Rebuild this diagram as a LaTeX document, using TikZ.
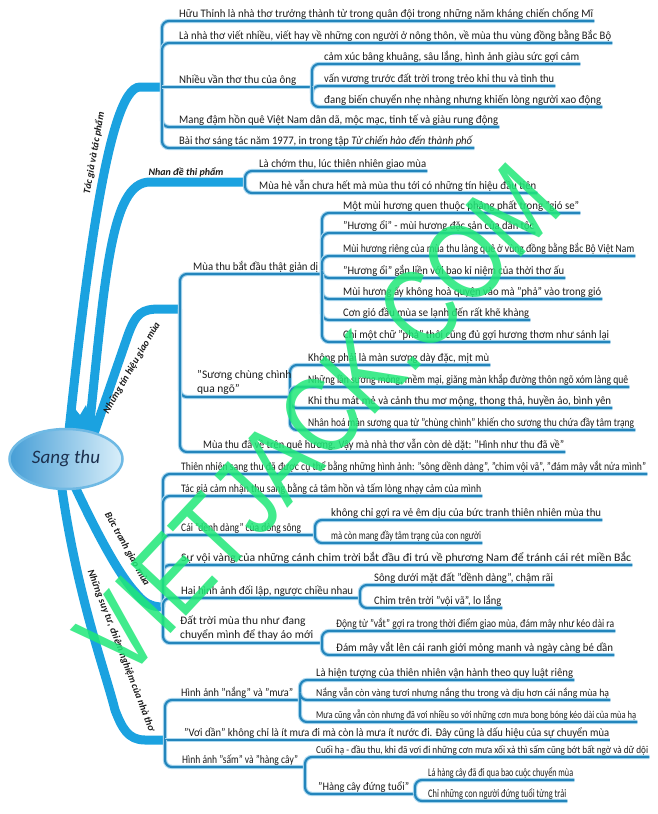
\documentclass[tikz,border=0pt]{standalone}
\usepackage{fontspec}
\usepackage{graphicx}
\setmainfont{Carlito}
\newfontfamily\wmfont{Liberation Sans}
\usetikzlibrary{shapes.geometric}
\definecolor{mainblue}{RGB}{27,162,224}
\definecolor{subblue}{RGB}{35,133,188}
\definecolor{halo}{RGB}{175,218,240}
\definecolor{wmgreen}{RGB}{32,232,120}
\definecolor{txt}{RGB}{28,28,28}
\definecolor{rootL}{RGB}{70,158,214}
\definecolor{rootR}{RGB}{218,239,250}
\definecolor{rootB}{RGB}{110,185,228}
\definecolor{roottxt}{RGB}{28,48,78}
\pgfdeclarelayer{bg}
\pgfdeclarelayer{lines}
\pgfsetlayers{bg,lines,main}
\newsavebox\fitbox
\newcommand\fitto[2]{\sbox\fitbox{#2}\pgfmathsetmacro\fitfac{max(0.6,min(1.3,#1/\the\wd\fitbox))}\scalebox{\fitfac}[1]{\usebox\fitbox}}
\begin{document}
\begin{tikzpicture}[x=1pt,y=-1pt,
  leaf/.style={anchor=south west, inner xsep=1pt, inner ysep=1pt, text height=8.5pt, text depth=2.4pt, text=txt, font=\fontsize{11.5}{13}\selectfont},
  sleaf/.style={leaf, font=\fontsize{10.5}{12}\selectfont},
  twoline/.style={anchor=south west, inner xsep=1pt, inner ysep=2pt, align=left, text=txt, font=\fontsize{11.5}{14}\selectfont},
  sub/.style={draw=subblue, line width=2.2pt, rounded corners=7pt, preaction={draw=halo, line width=4.4pt}},
  blab/.style={inner sep=0pt, text=txt, font=\bfseries\itshape\fontsize{10}{12}\selectfont},
  mainbr/.style={draw=mainblue, line width=9pt}]
\begin{pgfonlayer}{bg}
\fill[white] (0,0) rectangle (657,814);
\end{pgfonlayer}
\useasboundingbox (0,0) rectangle (657,814);

% bars
\coordinate (b1) at (162,87);  \coordinate (b1c) at (312,87);
\coordinate (b2) at (245,182);
\coordinate (b3) at (180,309); \coordinate (b3a) at (322,274); \coordinate (b3b) at (290,397);
\coordinate (b4) at (163,607); \coordinate (b4c) at (315,535); \coordinate (b4e) at (360,598); \coordinate (b4f) at (322,643);
\coordinate (b5) at (165,740); \coordinate (b5a) at (300,700); \coordinate (b5c) at (305,767); \coordinate (b5c2) at (415,794);

% branch start points (behind the root ellipse)
\coordinate (r1) at (68,440);
\coordinate (r2) at (88,440);
\coordinate (r3) at (90,445);
\coordinate (r4) at (70,476);
\coordinate (r5) at (60,475);

% main branches
\begin{pgfonlayer}{bg}
\draw[mainbr] (r1) .. controls (85,280) and (108,87) .. (140,87) -- (b1);
\draw[mainbr] (r2) .. controls (105,280) and (110,182) .. (150,182) -- (b2);
\draw[mainbr] (r3) -- (128,335) .. controls (136,313) and (142,309) .. (160,309) -- (b3);
\draw[mainbr] (r4) .. controls (88,515) and (115,570) .. (135,592) .. controls (143,602) and (150,607) .. (b4);
\draw[mainbr] (r5) .. controls (75,590) and (105,670) .. (115,710) .. controls (122,728) and (128,740) .. (145,740) -- (b5);
\fill[mainblue] (62,445) -- (72,405) -- (80,415) -- (86,405) -- (98,445) -- cycle;
\end{pgfonlayer}

% branch labels
\node[blab, rotate=80] (l1) at (94,153) {Tác giả và tác phẩm};
\node[blab] (l2) at (186,172) {Nhan đề thi phẩm};
\node[blab, rotate=60] (l3) at (132,368) {Những tín hiệu giao mùa};
\node[blab, rotate=-61] (l4) at (127,549) {Bức tranh giao mùa};
\node[blab, rotate=-69] (l5) at (121,651) {Những suy tư, chiêm nghiệm của nhà thơ};

% group 1
\node[leaf] (g1a) at (178,21) {\fitto{414}{Hữu Thỉnh là nhà thơ trưởng thành từ trong quân đội trong những năm kháng chiến chống Mĩ}};
\node[leaf] (g1b) at (178,43) {\fitto{432}{Là nhà thơ viết nhiều, viết hay về những con người ở nông thôn, về mùa thu vùng đồng bằng Bắc Bộ}};
\node[leaf] (g1c) at (178,87) {\fitto{117}{Nhiều vần thơ thu của ông}};
\node[leaf] (g1c1) at (323,64) {\fitto{255}{cảm xúc bâng khuâng, sâu lắng, hình ảnh giàu sức gợi cảm}};
\node[leaf] (g1c2) at (323,86) {\fitto{230}{vấn vương trước đất trời trong trẻo khi thu và tình thu}};
\node[leaf] (g1c3) at (323,107) {\fitto{277}{đang biến chuyển nhẹ nhàng nhưng khiến lòng người xao động}};
\node[leaf] (g1d) at (178,127) {\fitto{319}{Mang đậm hồn quê Việt Nam dân dã, mộc mạc, tinh tế và giàu rung động}};
\node[leaf] (g1e) at (178,148) {\fitto{294}{Bài thơ sáng tác năm 1977, in trong tập \textit{Từ chiến hào đến thành phố}}};
% group 2
\node[leaf] (g2a) at (258,171) {\fitto{167}{Là chớm thu, lúc thiên nhiên giao mùa}};
\node[leaf] (g2b) at (258,193) {\fitto{277}{Mùa hè vẫn chưa hết mà mùa thu tới có những tín hiệu đầu tiên}};
% group 3
\node[leaf] (g3a) at (192,274) {\fitto{125}{Mùa thu bắt đầu thật giản dị}};
\node[leaf] (g3a1) at (342,213) {\fitto{236}{Một mùi hương quen thuộc phảng phất trong "gió se"}};
\node[leaf] (g3a2) at (342,233) {\fitto{191}{"Hương ổi" - mùi hương đặc sản của dân tộc}};
\node[leaf] (g3a3) at (342,256) {\fitto{291}{Mùi hương riêng của mùa thu làng quê ở vùng đồng bằng Bắc Bộ Việt Nam}};
\node[leaf] (g3a4) at (342,278) {\fitto{221}{"Hương ổi" gắn liền với bao kỉ niệm của thời thơ ấu}};
\node[leaf] (g3a5) at (342,299) {\fitto{258}{Mùi hương ấy không hoà quyện vào mà "phả" vào trong gió}};
\node[leaf] (g3a6) at (342,320) {\fitto{186}{Cơn gió đầu mùa se lạnh đến rất khẽ khàng}};
\node[leaf] (g3a7) at (342,342) {\fitto{266}{Chỉ một chữ "phả" thôi cũng đủ gợi hương thơm như sánh lại}};
\node[twoline] (g3b) at (196,397) {"Sương chùng chình\\qua ngõ"};
\node[leaf] (g3b1) at (307,365) {\fitto{181}{Không phải là màn sương dày đặc, mịt mù}};
\node[leaf] (g3b2) at (307,387) {\fitto{320}{Những lần sương mỏng, mềm mại, giăng màn khắp đường thôn ngõ xóm làng quê}};
\node[leaf] (g3b3) at (307,408) {\fitto{303}{Khi thu mát mẻ và cảnh thu mơ mộng, thong thả, huyền ảo, bình yên}};
\node[leaf] (g3b4) at (307,430) {\fitto{326}{Nhân hoá màn sương qua từ "chùng chình" khiến cho sương thu chứa đầy tâm trạng}};
\node[leaf] (g3c) at (202,452) {\fitto{361}{Mùa thu đã về trên quê hương. Vậy mà nhà thơ vẫn còn dè dặt: "Hình như thu đã về"}};
% group 4
\node[leaf] (g4a) at (180,474) {\fitto{465}{Thiên nhiên sang thu đã được cụ thể bằng những hình ảnh: "sông dềnh dàng", "chim vội vã", "đám mây vắt nửa mình"}};
\node[leaf] (g4b) at (180,496) {\fitto{300}{Tác giả cảm nhận thu sang bằng cả tâm hồn và tấm lòng nhạy cảm của mình}};
\node[leaf] (g4c) at (180,535) {\fitto{120}{Cái "dềnh dàng" của dòng sông}};
\node[leaf] (g4c1) at (330,520) {\fitto{270}{không chỉ gợi ra vẻ êm dịu của bức tranh thiên nhiên mùa thu}};
\node[leaf] (g4c2) at (330,543) {\fitto{150}{mà còn mang đầy tâm trạng của con người}};
\node[leaf] (g4d) at (180,565) {\fitto{450}{Sự vội vàng của những cánh chim trời bắt đầu đi trú về phương Nam để tránh cái rét miền Bắc}};
\node[leaf] (g4e) at (180,598) {\fitto{172}{Hai hình ảnh đối lập, ngược chiều nhau}};
\node[leaf] (g4e1) at (373,585) {\fitto{179}{Sông dưới mặt đất "dềnh dàng", chậm rãi}};
\node[leaf] (g4e2) at (373,608) {\fitto{127}{Chim trên trời "vội vã", lo lắng}};
\node[twoline] (g4f) at (179,643) {Đất trời mùa thu như đang\\chuyển mình để thay áo mới};
\node[leaf] (g4f1) at (335,631) {\fitto{278}{Động từ "vắt" gợi ra trong thời điểm giao mùa, đám mây như kéo dài ra}};
\node[leaf] (g4f2) at (335,655) {\fitto{277}{Đám mây vắt lên cái ranh giới mỏng manh và ngày càng bé dần}};
% group 5
\node[leaf] (g5a) at (180,700) {\fitto{112}{Hình ảnh "nắng" và "mưa"}};
\node[leaf] (g5a1) at (315,680) {\fitto{257}{Là hiện tượng của thiên nhiên vận hành theo quy luật riêng}};
\node[sleaf] (g5a2) at (315,700) {\fitto{293}{Nắng vẫn còn vàng tươi nhưng nắng thu trong và dịu hơn cái nắng mùa hạ}};
\node[sleaf] (g5a3) at (315,722) {\fitto{320}{Mưa cũng vẫn còn nhưng đã vơi nhiều so với những cơn mưa bong bóng kéo dài của mùa hạ}};
\node[leaf] (g5b) at (183,740) {\fitto{425}{"Vơi dần" không chỉ là ít mưa đi mà còn là mưa ít nước đi. Đây cũng là dấu hiệu của sự chuyển mùa}};
\node[leaf] (g5c) at (181,767) {\fitto{116}{Hình ảnh "sấm" và "hàng cây"}};
\node[sleaf] (g5c1) at (315,757) {\fitto{332}{Cuối hạ - đầu thu, khi đã vơi đi những cơn mưa xối xả thì sấm cũng bớt bất ngờ và dữ dội}};
\node[leaf] (g5c2) at (317,794) {\fitto{91}{"Hàng cây đứng tuổi"}};
\node[leaf] (g5c2a) at (427,780) {\fitto{145}{Lá hàng cây đã đi qua bao cuộc chuyển mùa}};
\node[leaf] (g5c2b) at (427,801) {\fitto{138}{Chỉ những con người đứng tuổi từng trải}};

% connectors
\begin{pgfonlayer}{lines}
\foreach \c in {g1a,g1b,g1d,g1e} \draw[sub] (b1) |- (\c.south east);
\draw[sub] (b1) -- (b1c);
\foreach \c in {g1c1,g1c2,g1c3} \draw[sub] (b1c) |- (\c.south east);
\foreach \c in {g2a,g2b} \draw[sub] (b2) |- (\c.south east);
\draw[sub] (b3) |- (b3a);
\draw[sub] (b3) |- (b3b);
\draw[sub] (b3) |- (g3c.south east);
\foreach \c in {g3a1,g3a2,g3a3,g3a4,g3a5,g3a6,g3a7} \draw[sub] (b3a) |- (\c.south east);
\foreach \c in {g3b1,g3b2,g3b3,g3b4} \draw[sub] (b3b) |- (\c.south east);
\foreach \c in {g4a,g4b,g4d} \draw[sub] (b4) |- (\c.south east);
\draw[sub] (b4) |- (b4c);
\draw[sub] (b4) |- (b4e);
\draw[sub] (b4) |- (b4f);
\foreach \c in {g4c1,g4c2} \draw[sub] (b4c) |- (\c.south east);
\foreach \c in {g4e1,g4e2} \draw[sub] (b4e) |- (\c.south east);
\foreach \c in {g4f1,g4f2} \draw[sub] (b4f) |- (\c.south east);
\draw[sub] (b5) |- (b5a);
\draw[sub] (b5) -- (g5b.south east);
\draw[sub] (b5) |- (b5c);
\foreach \c in {g5a1,g5a2,g5a3} \draw[sub] (b5a) |- (\c.south east);
\draw[sub] (b5c) |- (g5c1.south east);
\draw[sub] (b5c) |- (b5c2);
\foreach \c in {g5c2a,g5c2b} \draw[sub] (b5c2) |- (\c.south east);
\end{pgfonlayer}

% root
\node[ellipse, minimum width=113pt, minimum height=60pt, draw=rootB, line width=2.5pt, left color=rootL, right color=rootR, text=roottxt, font=\itshape\fontsize{19}{22}\selectfont] (root) at (66,459) {Sang thu};

% watermark
\node[rotate=47, inner sep=0pt, text=wmgreen, opacity=0.85, font=\wmfont\fontsize{92}{92}\selectfont] (wm) at (318,420) {\scalebox{0.95}[1.2]{VIETJACK.COM}};
\end{tikzpicture}
\end{document}
